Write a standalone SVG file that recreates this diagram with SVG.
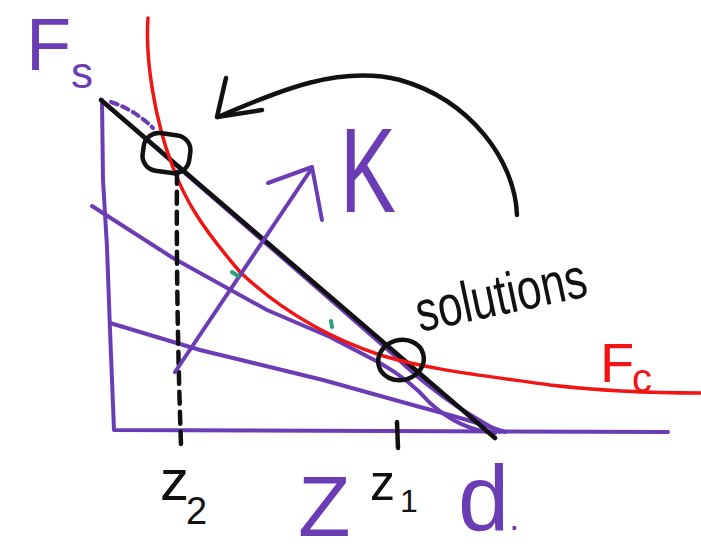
<svg xmlns="http://www.w3.org/2000/svg" width="701" height="556" viewBox="0 0 701 556">
<style>
.p{fill:none;stroke:#6b3db5;stroke-width:4;stroke-linecap:round;stroke-linejoin:round}
.k{fill:none;stroke:#111;stroke-width:4.5;stroke-linecap:round;stroke-linejoin:round}
.r{fill:none;stroke:#f01414;stroke-width:3.5;stroke-linecap:round}
.t{font-family:"Liberation Sans",Arial,sans-serif}
.tp{fill:#6b3db5}
.tk{fill:#111}
.tr{fill:#f01414}
</style>
<rect width="701" height="556" fill="#fff"/>
<g id="axes">
<path class="p" d="M102,100 L103,180 L107,247 L110,330 L114,430 L668,432"/>
</g>
<g id="connectors">
<path class="p" d="M102,101 L300,273 L395,356 Q440,400 500,432"/>
<path class="p" d="M92,206 L173,258 L267,310 L330,337 L380,363 Q410,380 430,403 Q460,430 495,433"/>
<path class="p" d="M110,323 L200,350 L323,380 L420,407 Q470,420 505,432"/>
<path class="p" d="M111,102 Q135,110 153,128" stroke-dasharray="7 5" stroke-width="3.5"/>
<path class="k" d="M101,100 L495,438"/>
<path class="r" d="M148,18 C145,60 155,120 172,165 C185,200 200,225 240,272 C275,305 320,335 380,355 C430,370 480,375 550,385 C610,392 660,393 700,393"/>
<path class="k" d="M177,172 Q176,300 181,445" stroke-dasharray="12 8" stroke-width="3"/>
<path class="k" d="M397,422 L398,448"/>
<path class="k" d="M517,215 C515,160 470,100 400,80 C340,65 280,90 218,117"/>
<path class="k" d="M226,78 L217,117 L262,110"/>
<path class="p" d="M175,372 L312,168"/>
<path class="p" d="M268,183 L312,167 L322,220"/>
<path d="M232,272 L238,276 M331,321 L332,327" fill="none" stroke="#2aa37a" stroke-width="4" stroke-linecap="round"/>
</g>
<g id="solution-1">
<rect class="k" x="143" y="134" width="47" height="38" rx="15" transform="rotate(8 166 153)"/>
</g>
<g id="solution-2">
<ellipse class="k" cx="401" cy="360" rx="23" ry="20" transform="rotate(-15 401 360)"/>
</g>
<g id="labels">
<text class="t tp" x="26" y="70" font-size="74">F</text>
<text class="t tp" x="71" y="88" font-size="44">s</text>
<text class="t tr" x="600" y="382" font-size="56">F</text>
<text class="t tr" x="632" y="392" font-size="40">c</text>
<text class="t tp" font-size="120" transform="translate(340,212) scale(0.7,1)">K</text>
<text class="t tk" font-size="44" transform="translate(420,332) rotate(-12) scale(1,1.3)">solutions</text>
<text class="t tk" x="160" y="500" font-size="58">z</text>
<text class="t tk" x="186" y="524" font-size="38">2</text>
<text class="t tp" x="298" y="536" font-size="86">Z</text>
<text class="t tk" x="370" y="500" font-size="50">z</text>
<text class="t tk" x="400" y="512" font-size="32">1</text>
<text class="t tp" x="458" y="530" font-size="92">d<tspan font-size="36">.</tspan></text>
</g>
</svg>
